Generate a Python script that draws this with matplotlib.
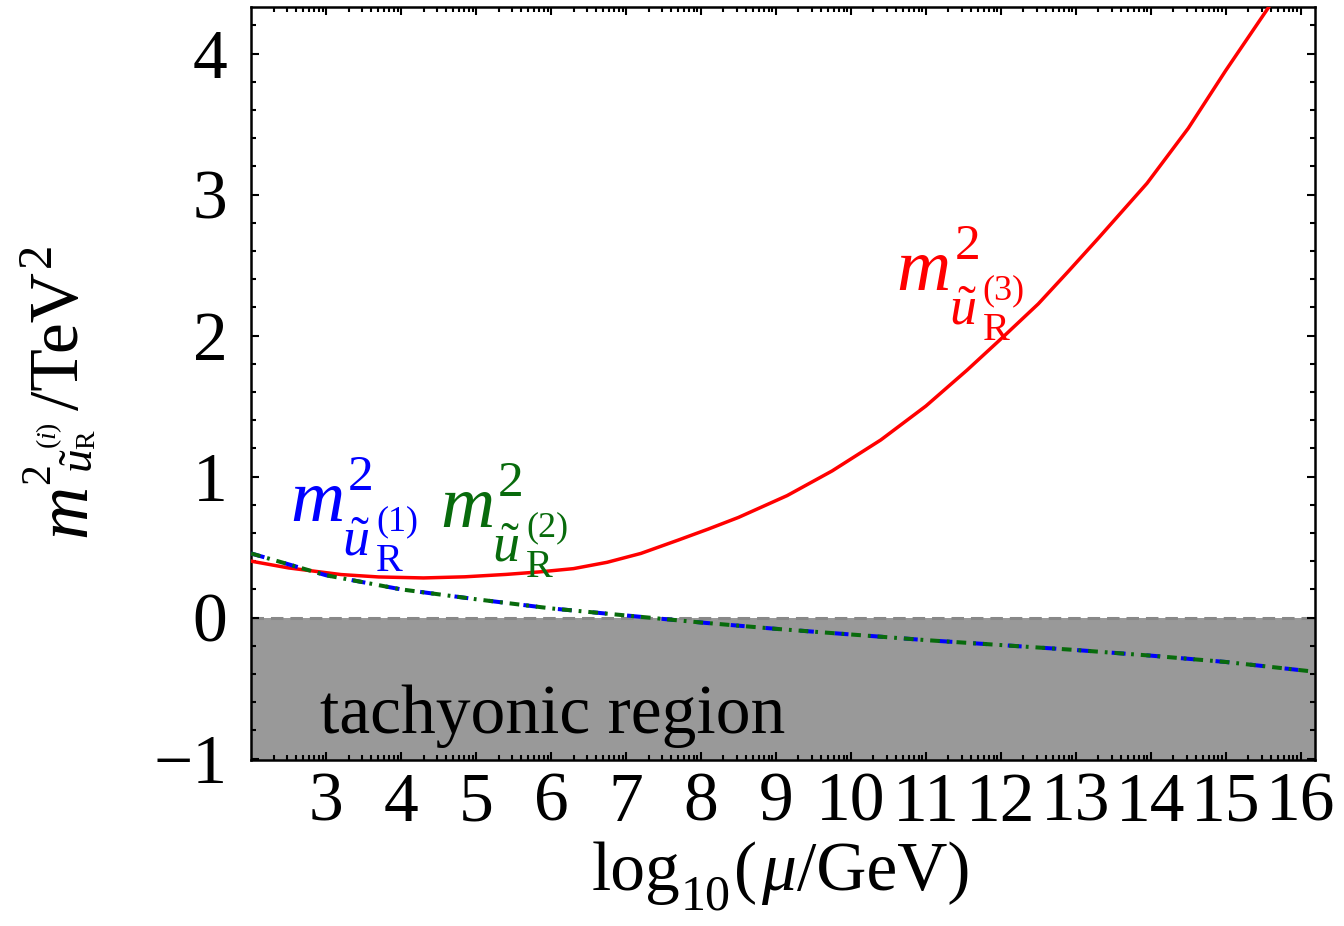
import numpy as np
import matplotlib
matplotlib.use("Agg")
import matplotlib.pyplot as plt
from matplotlib.ticker import FixedLocator, MultipleLocator

# values
log_mu_red = [2.0, 2.5, 3.2, 3.7, 4.3, 4.85, 5.4, 5.85, 6.3, 6.75, 7.2, 7.7, 8.1, 8.5,
              9.15, 9.75, 10.4, 11.0, 11.55, 12.05, 12.5, 12.9, 13.3, 13.95, 14.5,
              15.0, 15.6]
m2_u3 = [0.40, 0.352, 0.305, 0.288, 0.281, 0.289, 0.306, 0.324, 0.347, 0.392, 0.455,
         0.55, 0.628, 0.71, 0.865, 1.04, 1.26, 1.50, 1.755, 2.00, 2.225, 2.455, 2.69,
         3.08, 3.47, 3.88, 4.35]

log_mu_light = [2.0, 3.0, 4.0, 5.0, 6.0, 7.0, 8.0, 9.0, 10.0, 11.0, 12.0, 13.0,
                14.0, 15.0, 16.2]
m2_u1 = [0.455, 0.30, 0.20, 0.13, 0.065, 0.015, -0.035, -0.08, -0.12, -0.16,
         -0.195, -0.23, -0.27, -0.315, -0.385]
m2_u2 = [0.455, 0.30, 0.20, 0.13, 0.065, 0.015, -0.035, -0.08, -0.12, -0.16,
         -0.195, -0.23, -0.27, -0.315, -0.385]

# label anchors (data coords, left edge / baseline of the "m")
label_gen = ["(1)", "(2)", "(3)"]
label_x = [2.52, 4.52, 10.61]
label_y = [0.683, 0.640, 2.32]

x_range = (2.0, 16.19)
y_range = (-1.01, 4.33)
major_x = list(range(3, 17))

RED = "#ff0000"
BLUE = "#0000ff"
GREEN = "#086b0c"
label_colors = [BLUE, GREEN, RED]

W, H = 1344, 926
PT = 0.72  # points per pixel at 100 dpi
UT = r"$\tilde{u}$"

plt.rcParams["font.family"] = "Liberation Serif"
plt.rcParams["mathtext.fontset"] = "custom"
plt.rcParams["mathtext.rm"] = "Liberation Serif"
plt.rcParams["mathtext.it"] = "Liberation Serif:italic"
plt.rcParams["mathtext.bf"] = "Liberation Serif:bold"
plt.rcParams["lines.scale_dashes"] = False

fig = plt.figure(figsize=(W / 100, H / 100), dpi=100)
ax = fig.add_axes([0.1868, 0.1793, 0.7916, 0.8131])

# tachyonic region
ax.axhspan(y_range[0], 0, color="#999999", lw=0, zorder=0)
ax.axhline(0, color="#888888", lw=2.2, dashes=(9, 5), zorder=1)
ax.text(2.92, -0.82, "tachyonic region", fontsize=50, ha="left", va="baseline", zorder=2)

ax.plot(log_mu_red, m2_u3, color=RED, lw=2.5, zorder=3)
ax.plot(log_mu_light, m2_u1, color=BLUE, lw=2.9, dashes=(10, 15), zorder=4)
ax.plot(log_mu_light, m2_u2, color=GREEN, lw=2.9, dashes=(7, 5, 2, 5), zorder=5)


def curve_label(x, y, gen, color):
    # m^2 with a stacked subscript u~_R^(gen); offsets in pixels (right, down)
    pieces = [
        ("m", 54, 0, 0, "italic"),
        ("2", 37, 58, -31, "normal"),
        (UT, 39, 52, 34, "normal"),
        ("R", 29, 86, 50, "normal"),
        (gen, 26, 86, 9, "normal"),
    ]
    for s, size, dx, dy, style in pieces:
        ax.annotate(s, xy=(x, y), xycoords="data", xytext=(dx * PT, -dy * PT),
                    textcoords="offset points", fontsize=size, fontstyle=style,
                    color=color, ha="left", va="baseline", zorder=6)


for gx, gy, gen, col in zip(label_x, label_y, label_gen, label_colors):
    curve_label(gx, gy, gen, col)

ax.set_xlim(*x_range)
ax.set_ylim(*y_range)

# log-style minor ticks between integer decades, like the original
minor_x = [n + np.log10(k) for n in range(2, 17) for k in range(2, 10)]
minor_x = [v for v in minor_x if v < x_range[1]]
ax.xaxis.set_major_locator(FixedLocator(major_x))
ax.xaxis.set_minor_locator(FixedLocator(minor_x))
ax.yaxis.set_major_locator(MultipleLocator(1))
ax.yaxis.set_minor_locator(MultipleLocator(0.2))

ax.tick_params(which="both", direction="in", top=True, right=True, width=1.5,
               labelsize=50)
ax.tick_params(which="major", length=6)
ax.tick_params(which="minor", length=3.5)
ax.tick_params(axis="x", which="major", pad=9)
ax.tick_params(axis="y", which="major", pad=17)

for sp in ax.spines.values():
    sp.set_linewidth(1.8)

# y label, rotated; pieces placed relative to the baseline-left of "m"
# (a = along the text, u = up from the baseline), in pixels
y0x, y0y = 85, H - 536.7
ylabel_pieces = [
    ("m", 53, 0, 0, "italic"),
    ("2", 30, 53, 36, "normal"),
    (UT, 34, 64, -8, "normal"),
    ("R", 20, 88, -9, "normal"),
    ("$(i)$", 20, 88, 29, "normal"),
    ("/TeV", 50, 127, 7, "normal"),
    ("2", 35, 270, 35, "normal"),
]
for s, size, a, u, style in ylabel_pieces:
    fig.text((y0x - u) / W, (y0y + a) / H, s, rotation=90, rotation_mode="anchor",
             fontsize=size, fontstyle=style, ha="left", va="baseline")

# x label, pieces laid out left to right
renderer = fig.canvas.get_renderer()
xlabel_pieces = [
    ("log", 50, 0, "normal", 0),
    ("10", 36, 20, "normal", 3),
    ("(", 50, 0, "normal", 4),
    ("\u03bc", 50, 0, "italic", 1),
    ("/GeV)", 50, 0, "normal", 0),
]
cur_x, base_y = 592, H - 890
for s, size, drop, style, gap in xlabel_pieces:
    t = fig.text(cur_x / W, (base_y - drop) / H, s, fontsize=size, fontstyle=style,
                 ha="left", va="baseline")
    cur_x += t.get_window_extent(renderer).width + gap

fig.savefig("out.png", dpi=100)
